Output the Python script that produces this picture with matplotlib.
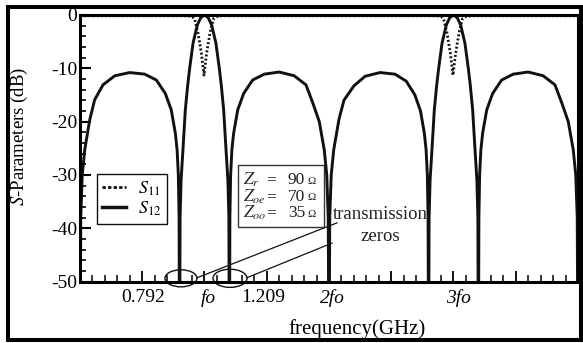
import matplotlib
matplotlib.use("Agg")
import matplotlib.pyplot as plt
from matplotlib.lines import Line2D
from matplotlib.patches import Ellipse, Rectangle
from matplotlib.ticker import MultipleLocator

plt.rcParams["font.family"] = "serif"
plt.rcParams["font.serif"] = ["Liberation Serif", "DejaVu Serif"]
plt.rcParams["mathtext.fontset"] = "stix"

# S12 (GHz, dB); the nulls are pushed below the -50 floor
f_s12 = [
    0.0, 0.006, 0.018, 0.038, 0.078, 0.118, 0.185, 0.28, 0.40, 0.52, 0.613, 0.685, 0.733, 0.766, 0.78, 0.79, 0.796, 0.8,
    0.804, 0.812, 0.827, 0.846, 0.865, 0.881, 0.908, 0.942, 0.97, 1.0, 1.03, 1.058, 1.092, 1.119, 1.135, 1.154, 1.173, 1.188, 1.196, 1.2,
    1.204, 1.21, 1.22, 1.234, 1.267, 1.315, 1.387, 1.48, 1.60, 1.72, 1.815, 1.87, 1.922, 1.962, 1.982, 1.994, 2.0,
    2.006, 2.018, 2.038, 2.08, 2.12, 2.2, 2.29, 2.41, 2.53, 2.62, 2.69, 2.735, 2.766, 2.78, 2.79, 2.796, 2.8,
    2.804, 2.812, 2.827, 2.846, 2.865, 2.881, 2.908, 2.942, 2.97, 3.0, 3.03, 3.058, 3.092, 3.119, 3.135, 3.154, 3.173, 3.188, 3.196, 3.2,
    3.204, 3.21, 3.22, 3.234, 3.267, 3.315, 3.387, 3.48, 3.60, 3.72, 3.815, 3.87, 3.922, 3.962, 3.982, 3.994, 4.0,
]
s12_db = [
    -70, -38, -30, -25.3, -19.7, -15.9, -13.1, -11.4, -10.8, -11.1, -12.2, -14.7, -17.8, -22.2, -25.3, -30, -38, -70,
    -38, -31, -25.3, -17.8, -13.2, -10, -5.3, -1.9, -0.5, 0, -0.5, -1.9, -5.3, -10, -13.2, -17.8, -25.3, -31, -38, -70,
    -38, -30, -25.3, -22.2, -17.8, -14.7, -12.2, -11.1, -10.7, -11.4, -13.1, -16.5, -20, -25.3, -30, -38, -70,
    -38, -30, -25.3, -19.6, -16, -13.3, -11.5, -10.8, -11.1, -12.4, -15, -18, -22.2, -25.3, -30, -38, -70,
    -38, -31, -25.3, -17.8, -13.2, -10, -5.3, -1.9, -0.5, 0, -0.5, -1.9, -5.3, -10, -13.2, -17.8, -25.3, -31, -38, -70,
    -38, -30, -25.3, -22.2, -17.8, -14.7, -12.2, -11.1, -10.7, -11.4, -13.1, -16.5, -20, -25.3, -30, -38, -70,
]

# S11 only dips around fo and 3fo
f_s11 = [0.0, 0.86, 0.9, 0.92, 0.948, 0.975, 0.996, 1.017, 1.044, 1.072, 1.1, 1.14,
         2.86, 2.9, 2.92, 2.948, 2.975, 2.996, 3.017, 3.044, 3.072, 3.1, 3.14, 4.0]
s11_db = [-0.15, -0.15, -0.3, -0.7, -3.4, -7.2, -11.3, -7.2, -3.4, -0.7, -0.3, -0.15,
          -0.15, -0.3, -0.7, -3.4, -7.2, -11.3, -7.2, -3.4, -0.7, -0.3, -0.15, -0.15]

y_ticks = [0, -10, -20, -30, -40, -50]
y_tick_labels = ["0", "-10", "-20", "-30", "-40", "-50"]
x_marks = ["0.792", "fo", "1.209", "2fo", "3fo"]
z_names = ["r", "oe", "oo"]
z_values = [90, 70, 35]

ink = "#111111"

fig = plt.figure(figsize=(5.83, 3.43), dpi=100)
ax = fig.add_axes([0.1372, 0.1793, 0.8542, 0.7770])

ax.plot(f_s11, s11_db, color=ink, lw=2, ls=(0, (0.7, 0.8)))
ax.plot(f_s12, s12_db, color=ink, lw=2.1)

ax.set_xlim(0, 4)
ax.set_ylim(-50, 0)
for s in ax.spines.values():
    s.set_linewidth(2.2)

ax.xaxis.set_major_locator(MultipleLocator(0.5))
ax.xaxis.set_minor_locator(MultipleLocator(0.1))
ax.set_yticks(y_ticks)
ax.set_yticklabels(y_tick_labels)
ax.yaxis.set_minor_locator(MultipleLocator(2))
ax.tick_params(which="both", direction="in", top=False, right=False, labelbottom=False)
ax.tick_params(axis="x", which="major", length=8, width=1.3)
ax.tick_params(axis="x", which="minor", length=5, width=1.1)
ax.tick_params(axis="y", which="major", length=8, width=1.5, labelsize=14, pad=2)
ax.tick_params(axis="y", which="minor", length=4.5, width=1.2)

# hand placed frequency marks under the axis
xt = ax.get_xaxis_transform()
for lbl, fx in zip(x_marks, [0.51, 1.03, 1.47, 2.03, 3.04]):
    st = "italic" if "fo" in lbl else "normal"
    ax.text(fx, -0.061, lbl, transform=xt, ha="center", va="center",
            fontsize=14, style=st)

ax.set_xlabel("frequency(GHz)", fontsize=15)
ax.xaxis.set_label_coords(0.556, -0.14)
ax.set_ylabel(r"$S$-Parameters (dB)", fontsize=13.5, va="center")
ax.yaxis.set_label_coords(-0.122, 0.546)

# legend
handles = [
    Line2D([0], [0], color=ink, lw=2, ls=(0, (1.2, 0.8))),
    Line2D([0], [0], color=ink, lw=2.5),
]
leg = ax.legend(handles, [r"$S_{11}$", r"$S_{12}$"], loc="upper left",
                bbox_to_anchor=(0.0335, 0.403), borderaxespad=0, fontsize=13,
                handlelength=1.3, handletextpad=0.7, labelspacing=0.1,
                borderpad=0.3, fancybox=False, framealpha=1)
leg.get_frame().set_edgecolor(ink)
leg.get_frame().set_linewidth(1.0)

# impedance box
ax.add_patch(Rectangle((1.269, -39.8), 0.691, 11.7, fill=False, ec="#333333", lw=1.0))
for i, (nm, val) in enumerate(zip(z_names, z_values)):
    yy = -30.96 - 3.12 * i
    ax.text(1.309, yy, rf"$Z_{{{nm}}}$", ha="left", va="center", fontsize=12.5, color="#222222")
    ax.text(1.534, yy, "=", ha="center", va="center", fontsize=12.5, color="#222222")
    ax.text(1.807, yy, f"{val}", ha="right", va="center", fontsize=12.5, color="#222222")
    ax.text(1.823, yy - 0.2, "\u03a9", ha="left", va="center", fontsize=8, color="#222222")

# transmission zero callouts
for cx, w, h in [(0.811, 0.257, 3.2), (1.205, 0.273, 3.4)]:
    ax.add_patch(Ellipse((cx, -49.4), w, h, fill=False, ec=ink, lw=1.0, clip_on=False))
ax.plot([0.94, 2.064], [-49.3, -39.0], color=ink, lw=0.9, clip_on=False)
ax.plot([1.34, 2.024], [-49.3, -42.8], color=ink, lw=0.9, clip_on=False)
ax.text(2.41, -37.5, "transmission", ha="center", va="center", fontsize=13.5, color="#222222")
ax.text(2.41, -41.65, "zeros", ha="center", va="center", fontsize=13.5, color="#222222")

# thick frame around the whole figure
fig.patches.append(Rectangle((0.0137, 0.0073), 0.9829, 0.9723, transform=fig.transFigure,
                             fill=False, ec="black", lw=2.9))

fig.savefig("out.png", dpi=100)
